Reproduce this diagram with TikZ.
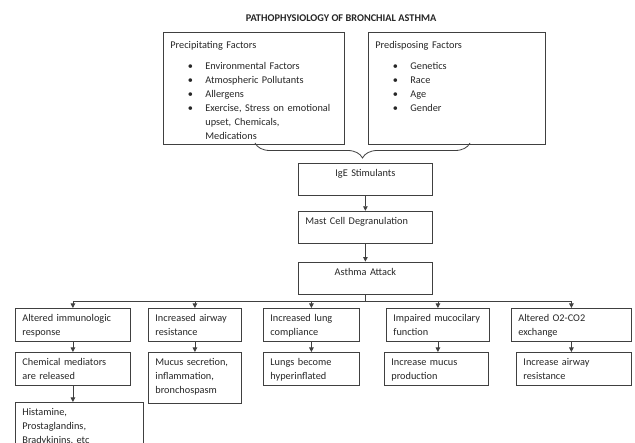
\documentclass[tikz,border=0pt]{standalone}
\usepackage{fontspec}
\setmainfont{Carlito}
\usetikzlibrary{arrows.meta,positioning,decorations.pathreplacing}
\definecolor{frame}{HTML}{404040}
\definecolor{ink}{HTML}{262626}
\newcommand{\bulitem}{\makebox[35pt][l]{\hspace{17.5pt}\textbullet}}
\newcommand{\bulcont}{\hspace*{35pt}}
\tikzset{box/.style={draw=frame,line width=0.8pt,anchor=north west,align=left,text=ink,
 font=\fontsize{10.3}{14}\selectfont,inner xsep=7pt,inner ysep=3pt,text height=10.3pt},
 link/.style={line width=0.8pt,draw=frame},
 arr/.style={link,-{Triangle[length=4.5pt,width=4.5pt]}}}

\begin{document}
\begin{tikzpicture}[x=1pt,y=-1pt]
\useasboundingbox (0,0) rectangle (635,443);
\clip (0,0) rectangle (635,443);
\node[font=\bfseries\fontsize{10.3}{12}\selectfont,text=ink] (title) at (341,18) {PATHOPHYSIOLOGY OF BRONCHIAL ASTHMA};
% factors
\node[box,text width=167pt,text height=13pt,text depth=92.5pt] (precip) at (163,32.5) {Precipitating Factors\\[6.8pt]
 \bulitem Environmental Factors\\
 \bulitem Atmospheric Pollutants\\
 \bulitem Allergens\\
 \bulitem Exercise, Stress on emotional\\
 \bulcont upset, Chemicals,\\
 \bulcont Medications};
\node[box,text width=163pt,text height=13pt,text depth=92.5pt] (predisp) at (368,32.5) {Predisposing Factors\\[6.8pt]
 \bulitem Genetics\\
 \bulitem Race\\
 \bulitem Age\\
 \bulitem Gender};
\coordinate (braceL) at (255,143);
\coordinate (braceR) at (470,143);
\draw[link,decorate,decoration={brace,mirror,amplitude=15pt}] (braceL) -- (braceR);
% main chain
\node[box,align=center,text width=120pt,text depth=15.7pt] (ige) at (298,163) {IgE Stimulants};
\node[box,text width=120pt,text depth=15.7pt,below=15pt of ige] (mast) {Mast Cell Degranulation};
\node[box,align=center,text width=120pt,text depth=15.7pt,below=18pt of mast] (attack) {Asthma Attack};
\draw[arr] (ige) -- (mast);
\draw[arr] (mast) -- (attack);
% effects
\node[box,text width=101pt,text depth=16.7pt] (alt) at (15,308) {Altered immunologic\\response};
\node[box,text width=79pt,text depth=16.7pt] (airway) at (148,308) {Increased airway\\resistance};
\node[box,text width=82pt,text depth=16.7pt] (lung) at (263,308) {Increased lung\\compliance};
\node[box,text width=89pt,text depth=16.7pt] (muco) at (386,308) {Impaired mucocilary\\function};
\node[box,text width=106pt,text depth=16.7pt] (oxy) at (511,308) {Altered O2-CO2\\exchange};
\coordinate (bus) at (363,301);
\draw[link] (attack.south) -- (attack.south |- bus);
\draw[link] (alt.north |- bus) -- (oxy.north |- bus);
\draw[arr] (alt.north |- bus) -- (alt.north);
\draw[arr] (airway.north |- bus) -- (airway.north);
\draw[arr] (lung.north |- bus) -- (lung.north);
\draw[arr] (muco.north |- bus) -- (muco.north);
\draw[arr] (oxy.north |- bus) -- (oxy.north);
% results
\node[box,text width=101pt,text depth=16.7pt] (chem) at (15,352) {Chemical mediators\\are released};
\node[box,text width=79pt,text depth=34.7pt] (mucus) at (148,352) {Mucus secretion,\\inflammation,\\bronchospasm};
\node[box,text width=82pt,text depth=16.7pt] (hyper) at (263,352) {Lungs become\\hyperinflated};
\node[box,text width=90pt,text depth=16.7pt] (mprod) at (384,352) {Increase mucus\\production};
\node[box,text width=101pt,text depth=16.7pt] (ares) at (516,352) {Increase airway\\resistance};
\node[box,text width=114pt,text depth=44pt] (hist) at (15,402) {Histamine,\\Prostaglandins,\\Bradykinins, etc};
\draw[arr] (alt.south) -- (chem.north -| alt.south);
\draw[arr] (airway.south) -- (mucus.north -| airway.south);
\draw[arr] (lung.south) -- (hyper.north -| lung.south);
\draw[arr] (muco.south) -- (mprod.north -| muco.south);
\draw[arr] (oxy.south) -- (ares.north -| oxy.south);
\draw[arr] (chem.south) -- (hist.north -| chem.south);
\end{tikzpicture}
\end{document}
